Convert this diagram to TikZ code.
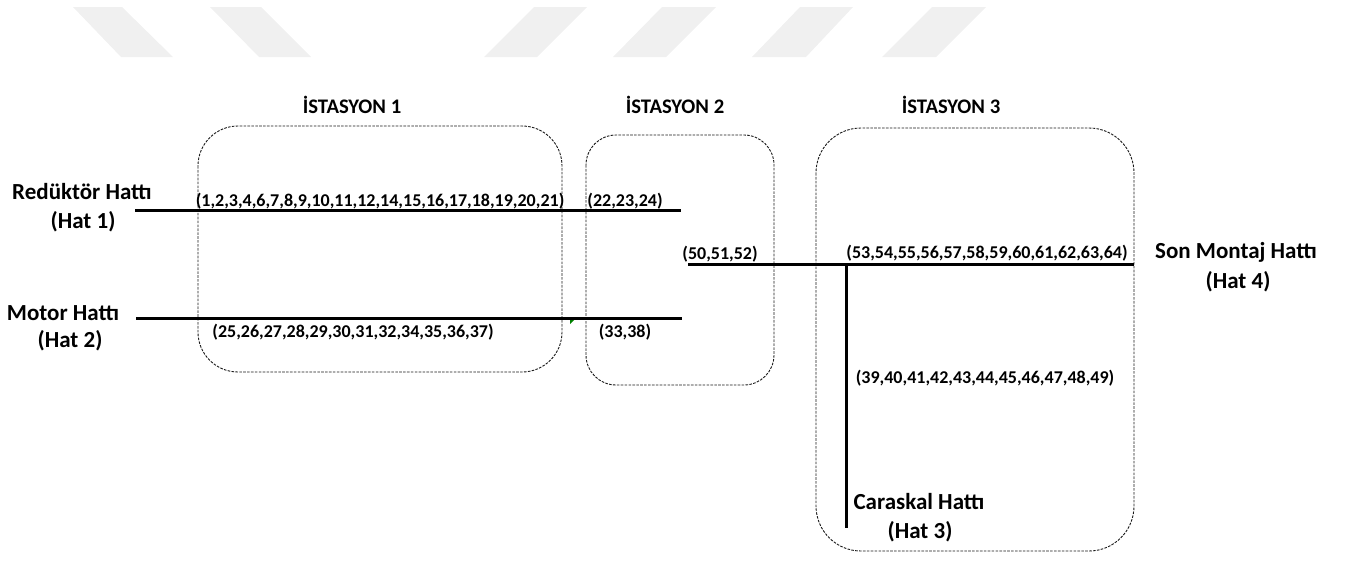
\documentclass[tikz,border=0pt]{standalone}
\usepackage{fontspec}
\setmainfont{Carlito}
\begin{document}
\begin{tikzpicture}[x=1pt,y=-1pt,
  station/.style={draw=black!90,line width=0.9pt,dash pattern=on 2.6pt off 1.3pt},
  hatline/.style={line width=3pt},
  band/.style={fill=black!6,draw=none},
  lbl/.style={inner sep=0pt,font=\fontsize{23}{27}\selectfont\bfseries,align=center},
  nums/.style={inner sep=0pt,font=\fontsize{18}{22}\selectfont\bfseries},
  title/.style={inner sep=0pt,font=\fontsize{20.7}{24}\selectfont\bfseries}]
\useasboundingbox (0,0) rectangle (1347,562);

% light header bands
\fill[band] (73,7) -- (122,7) -- (173,57) -- (121,57) -- cycle;
\fill[band] (210,7) -- (261,7) -- (311,57) -- (259,57) -- cycle;
\fill[band] (534,7) -- (587,7) -- (537,57) -- (484,57) -- cycle;
\fill[band] (662,7) -- (716,7) -- (666,57) -- (613,57) -- cycle;
\fill[band] (800,7) -- (853,7) -- (806,57) -- (752,57) -- cycle;
\fill[band] (932,7) -- (986,7) -- (936,57) -- (882,57) -- cycle;

% stations
\draw[station,rounded corners=40pt] (198,126) rectangle (562,372);
\draw[station,rounded corners=30pt] (586,135) rectangle (774,385);
\draw[station,rounded corners=45pt] (816,128) rectangle (1134,551);

\node[title] (t1) at (352,105) {İSTASYON 1};
\node[title] (t2) at (675,105) {İSTASYON 2};
\node[title] (t3) at (951,105) {İSTASYON 3};

% line end points
\coordinate (h1a) at (135,210);
\coordinate (h1b) at (681,210);
\coordinate (h2a) at (136,318);
\coordinate (h2b) at (682,318);
\coordinate (h4a) at (688,264);
\coordinate (h4b) at (1134,264);
\coordinate (h3a) at (846,264);
\coordinate (h3b) at (846,528);

\draw[hatline] (h1a) -- (h1b);
\draw[hatline] (h2a) -- (h2b);
\draw[hatline] (h4a) -- (h4b);
\draw[hatline] (h3a) -- (h3b);

% small green tick near the motor line
\fill[green!50!black] (570,320) -- (574,320) -- (570,324) -- cycle;

% line names
\node[lbl] (n1) at (82,192) {Redüktör Hattı};
\node[lbl] (n1b) at (83,222) {(Hat 1)};
\node[lbl] (n2) at (63,313) {Motor Hattı};
\node[lbl] (n2b) at (70,341) {(Hat 2)};
\node[lbl] (n4) at (1236,252) {Son Montaj Hattı};
\node[lbl] (n4b) at (1238,282) {(Hat 4)};
\node[lbl] (n3) at (919,502) {Caraskal Hattı};
\node[lbl] (n3b) at (920,532) {(Hat 3)};

% operation numbers
\node[nums] (o1) at (380,201) {(1,2,3,4,6,7,8,9,10,11,12,14,15,16,17,18,19,20,21)};
\node[nums] (o2) at (625,201) {(22,23,24)};
\node[nums] (o3) at (720,254) {(50,51,52)};
\node[nums] (o4) at (987,253) {(53,54,55,56,57,58,59,60,61,62,63,64)};
\node[nums] (o5) at (353,332) {(25,26,27,28,29,30,31,32,34,35,36,37)};
\node[nums] (o6) at (625,332) {(33,38)};
\node[nums] (o7) at (985,378) {(39,40,41,42,43,44,45,46,47,48,49)};
\end{tikzpicture}
\end{document}
